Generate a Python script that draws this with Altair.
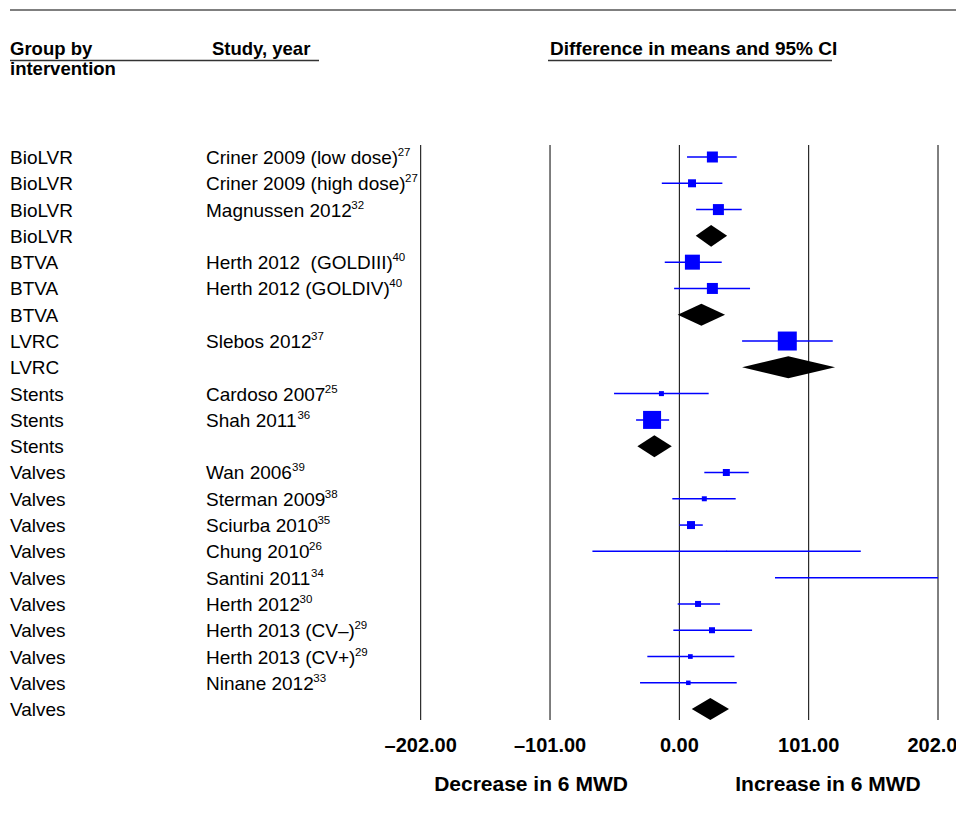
import altair as alt
import pandas as pd

FONT = "Liberation Sans, Arial, sans-serif"

# ---------------- data ----------------
groups = ["BioLVR"] * 4 + ["BTVA"] * 3 + ["LVRC"] * 2 + ["Stents"] * 3 + ["Valves"] * 10
studies = [
    "Criner 2009 (low dose)", "Criner 2009 (high dose)", "Magnussen 2012", "",
    "Herth 2012\u00a0 (GOLDIII)", "Herth 2012 (GOLDIV)", "",
    "Slebos 2012", "",
    "Cardoso 2007", "Shah 2011", "",
    "Wan 2006", "Sterman 2009", "Sciurba 2010", "Chung 2010", "Santini 2011",
    "Herth 2012", "Herth 2013 (CV\u2013)", "Herth 2013 (CV+)", "Ninane 2012", "",
]
refs = ["27", "27", "32", "", "40", "40", "", "37", "", "25", "36", "",
        "39", "38", "35", "26", "34", "30", "29", "29", "33", ""]
estimates = [25.8, 9.9, 30.5, 24.8, 10.2, 25.8, 17.2, 84.3, 85.1, -14.0, -21.3, -19.5,
             36.7, 19.5, 9.1, 36.9, None, 14.6, 25.5, 8.6, 7.0, 24.2]
lower = [6.0, -13.7, 13.1, 12.8, -11.4, -4.1, -1.3, 49.0, 49.0, -51.0, -33.8, -32.8,
         19.5, -5.5, 0.0, -67.9, 74.7, -1.3, -4.7, -25.0, -30.7, 9.7]
upper = [44.8, 33.6, 48.7, 37.3, 33.1, 55.2, 35.7, 119.8, 121.6, 22.9, -8.0, -5.9,
         54.2, 44.0, 18.3, 141.7, 202.0, 31.8, 56.8, 43.0, 44.8, 38.8]
weights = [3.35, 1.77, 3.35, None, 6.23, 3.35, None, 10.0, None, 0.69, 8.98, None,
           1.36, 0.69, 1.77, 0.03, None, 1.0, 1.0, 0.61, 0.56, None]
tick_values = [-202, -101, 0, 101, 202]
tick_labels = ["\u2013202.00", "\u2013101.00", "0.00", "101.00", "202.00"]

# ---------------- tables ----------------
# Arial / Liberation Sans advance widths (per 1000 em) for placing superscripts
ADV = {' ': 278, '\u00a0': 278, '(': 333, ')': 333, '+': 584, '\u2013': 556,
       'A': 667, 'B': 667, 'C': 722, 'D': 722, 'G': 778, 'H': 722, 'I': 278, 'L': 556,
       'M': 833, 'N': 722, 'O': 778, 'S': 667, 'V': 667, 'W': 944,
       'a': 556, 'b': 556, 'c': 500, 'd': 556, 'e': 556, 'g': 556, 'h': 556, 'i': 222,
       'l': 222, 'm': 833, 'n': 556, 'o': 556, 'r': 333, 's': 500, 't': 278, 'u': 556,
       'w': 722, 'y': 500}
for d in "0123456789":
    ADV[d] = 556


def text_width(s, size):
    return sum(ADV.get(c, 556) for c in s) * size / 1000.0


LABEL_SIZE = 19
GROUP_X = -410.7
STUDY_X = -214.7

df = pd.DataFrame({
    "row": list(range(len(groups))),
    "group": groups,
    "study": studies,
    "ref": refs,
    "est": estimates,
    "lo": lower,
    "hi": upper,
    "weight": weights,
})
df["summary"] = df["study"] == ""
df["supx"] = [STUDY_X + text_width(s, LABEL_SIZE) - 0.5 for s in studies]

study_df = df[~df["summary"]].copy()
square_df = study_df.dropna(subset=["est", "weight"]).copy()
summary_df = df[df["summary"]].copy()

HALF = 0.418  # diamond half-height in row units
dia_rows = []
for _, r in summary_df.iterrows():
    dia_rows.append({"grp": r["group"], "x": r["lo"], "y": r["row"], "y2": r["row"]})
    dia_rows.append({"grp": r["group"], "x": r["est"], "y": r["row"] - HALF, "y2": r["row"] + HALF})
    dia_rows.append({"grp": r["group"], "x": r["hi"], "y": r["row"], "y2": r["row"]})
dia_df = pd.DataFrame(dia_rows)

ticks_df = pd.DataFrame({"v": tick_values, "label": tick_labels})

xscale = alt.Scale(domain=[-202, 202], nice=False, zero=False)
yscale = alt.Scale(domain=[0, 21], range=[12, 564.1], nice=False, zero=False)

# ---------------- layers ----------------
refs_layer = alt.Chart(ticks_df).mark_rule(color="black", strokeWidth=1).encode(
    x=alt.X("v:Q", scale=xscale, axis=None)
)

tick_text = alt.Chart(ticks_df).mark_text(
    align="center", baseline="alphabetic", font=FONT, fontSize=20, fontWeight="bold", color="black"
).encode(
    x=alt.X("v:Q", scale=xscale, axis=None),
    y=alt.value(607),
    text="label:N",
)

ci_layer = alt.Chart(study_df).mark_rule(color="#0000ff", strokeWidth=1.5).encode(
    x=alt.X("lo:Q", scale=xscale, axis=None),
    x2="hi:Q",
    y=alt.Y("row:Q", scale=yscale, axis=None),
)

square_layer = alt.Chart(square_df).mark_square(color="#0000ff", filled=True, opacity=1).encode(
    x=alt.X("est:Q", scale=xscale, axis=None),
    y=alt.Y("row:Q", scale=yscale, axis=None),
    size=alt.Size("weight:Q", scale=alt.Scale(domain=[0, 10], range=[0, 361]), legend=None),
)

diamond_layer = alt.Chart(dia_df).mark_area(color="black", opacity=1, orient="vertical").encode(
    x=alt.X("x:Q", scale=xscale, axis=None),
    y=alt.Y("y:Q", scale=yscale, axis=None),
    y2="y2:Q",
    detail="grp:N",
)

group_text = alt.Chart(df).mark_text(
    align="left", baseline="middle", dy=1, font=FONT, fontSize=LABEL_SIZE, color="black"
).encode(
    x=alt.value(GROUP_X),
    y=alt.Y("row:Q", scale=yscale, axis=None),
    text="group:N",
)

study_text = alt.Chart(study_df).mark_text(
    align="left", baseline="middle", dy=1, font=FONT, fontSize=LABEL_SIZE, color="black"
).encode(
    x=alt.value(STUDY_X),
    y=alt.Y("row:Q", scale=yscale, axis=None),
    text="study:N",
)

sup_text = alt.Chart(study_df).mark_text(
    align="left", baseline="alphabetic", dy=-1, font=FONT, fontSize=11.5, color="black"
).encode(
    x=alt.X("supx:Q", scale=None),
    y=alt.Y("row:Q", scale=yscale, axis=None),
    text="ref:N",
)


def label(text, x, y, size=19, bold=True, align="left"):
    return alt.Chart(pd.DataFrame({"t": [text]})).mark_text(
        align=align, baseline="alphabetic", font=FONT, fontSize=size,
        fontWeight="bold" if bold else "normal", color="black",
    ).encode(x=alt.value(x), y=alt.value(y), text="t:N")


def hline(x1, x2, y, color, width):
    return alt.Chart(pd.DataFrame({"a": [0]})).mark_rule(color=color, strokeWidth=width).encode(
        x=alt.value(x1), x2=alt.value(x2), y=alt.value(y)
    )


decor = [
    hline(-410.7, 545, -135, "#7f7f7f", 2),
    label("Group by", GROUP_X, -90, size=18.5),
    label("intervention", GROUP_X, -70, size=18.5),
    label("Study, year", -208.7, -90, size=18.5),
    label("Difference in means and 95% CI", 129.3, -90),
    hline(-410.7, -101.7, -84.5, "#333333", 1.5),
    hline(127.3, 411.3, -84.5, "#333333", 1.5),
    label("Decrease in 6 MWD", 110.3, 645.5, size=21, align="center"),
    label("Increase in 6 MWD", 407.3, 645.5, size=21, align="center"),
]

chart = alt.layer(
    refs_layer, ci_layer, square_layer, diamond_layer, tick_text,
    group_text, study_text, sup_text, *decor
).properties(
    width=517.3,
    height=575,
    padding={"left": 412.7, "top": 137, "right": 18, "bottom": 93},
    autosize=alt.AutoSizeParams(type="none"),
    background="white",
).configure_view(stroke=None)

chart.save("out.html", embed_options={"renderer": "svg", "actions": False})
